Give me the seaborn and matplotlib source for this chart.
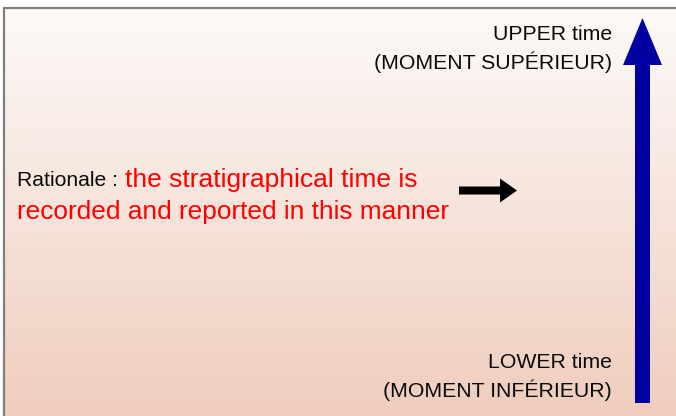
import matplotlib.pyplot as plt
import numpy as np
import seaborn as sns
from matplotlib.patches import FancyArrow

# text content of the diagram
top_labels = ["UPPER time", "(MOMENT SUPÉRIEUR)"]
bottom_labels = ["LOWER time", "(MOMENT INFÉRIEUR)"]
rationale_label = "Rationale :"
rationale_lines = ["the stratigraphical time is", "recorded and reported in this manner"]

sns.set_theme(style="white")
plt.rcParams["font.family"] = ["Liberation Sans", "DejaVu Sans"]

W, H = 676, 416
fig = plt.figure(figsize=(W / 100, H / 100), dpi=100)
ax = fig.add_axes([0, 0, 1, 1])
ax.set_xlim(0, W)
ax.set_ylim(H, 0)
ax.axis("off")

# background gradient, light at top, peach at bottom
top_col = np.array([253, 250, 248]) / 255
bot_col = np.array([239, 205, 189]) / 255
t = np.linspace(0, 1, 256)[:, None, None]
grad = top_col * (1 - t) + bot_col * t
grad = np.repeat(grad, 2, axis=1)
ax.imshow(grad, extent=[4, W, H, 8], aspect="auto", zorder=0)

# grey frame (left and top)
ax.plot([3.5, 3.5], [H, 7.5], color="#7f7f7f", lw=1.6, zorder=1)
ax.plot([3.5, W], [7.5, 7.5], color="#7f7f7f", lw=1.6, zorder=1)

# big blue time arrow
ax.add_patch(FancyArrow(642.5, 403, 0, -385, width=15, head_width=39,
                        head_length=47, length_includes_head=True,
                        color="#0000a0", lw=0, zorder=2))

# small black arrow
ax.add_patch(FancyArrow(459, 190.5, 58, 0, width=8, head_width=24,
                        head_length=17, length_includes_head=True,
                        color="black", lw=0, zorder=2))

for label, y in zip(top_labels, [34, 62]):
    ax.text(612, y, label, ha="right", va="center", fontsize=15.3, color="#0a0a0a")
for label, y in zip(bottom_labels, [362, 390]):
    ax.text(612, y, label, ha="right", va="center", fontsize=15.3, color="#0a0a0a")

ax.text(17, 181, rationale_label, ha="left", va="center", fontsize=15.2, color="#0a0a0a")
ax.text(125, 180, rationale_lines[0], ha="left", va="center", fontsize=19, color="#ff0000")
ax.text(17, 212, rationale_lines[1], ha="left", va="center", fontsize=18.9, color="#ff0000")

fig.savefig("out.png", dpi=100)
